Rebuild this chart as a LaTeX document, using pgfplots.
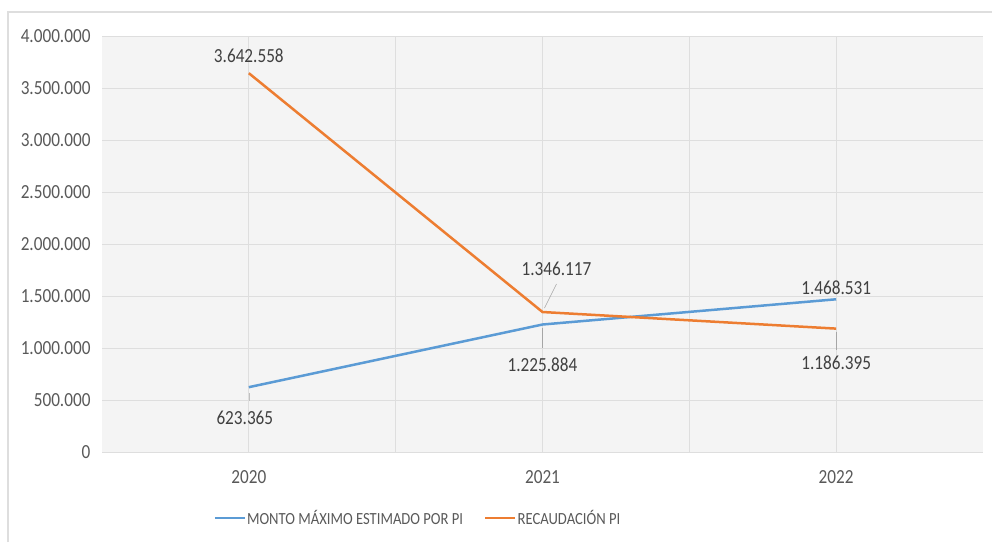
\documentclass[border=0pt]{standalone}
\usepackage{fontspec}
\setmainfont{Carlito}[FakeStretch=0.86]
\usepackage{pgfplots}
\pgfplotsset{compat=1.18}

\definecolor{serieA}{RGB}{91,155,213}
\definecolor{serieB}{RGB}{237,125,49}
\definecolor{txt}{RGB}{89,89,89}
\definecolor{lbl}{RGB}{64,64,64}
\definecolor{gridc}{RGB}{222,222,222}
\definecolor{bgc}{RGB}{244,244,244}

\begin{document}
\begin{tikzpicture}[x=1pt,y=1pt]
\useasboundingbox (0,0) rectangle (992,542);
% outer frame of the chart
\draw[gridc, line width=1.2pt] (8,0) -- (8,530) -- (992,530);

\begin{axis}[
    at={(102pt,90pt)}, anchor=south west,
    scale only axis,
    width=881pt, height=416pt,
    xmin=-0.5, xmax=2.5,
    ymin=0, ymax=4000000,
    xtick={0,1,2},
    xticklabels={2020,2021,2022},
    minor xtick={0.5,1.5},
    ytick={0,500000,...,4000000},
    scaled y ticks=false,
    /pgf/number format/.cd, fixed, 1000 sep={.}, assume math mode=true,
    /pgfplots/.cd,
    axis line style={draw=none},
    axis background/.style={fill=bgc},
    major tick length=0pt, minor tick length=0pt,
    ymajorgrids, xmajorgrids, xminorgrids,
    major grid style={gridc, line width=0.8pt},
    minor grid style={gridc, line width=0.8pt},
    tick label style={font=\fontsize{20}{22}\selectfont, text=txt},
    yticklabel style={xshift=-8pt},
    xticklabel style={anchor=center, yshift=-25pt},
    legend style={
        at={(0.358,-0.159)}, anchor=center,
        draw=none, fill=none,
        legend columns=2,
        font=\fontsize{17}{19}\selectfont, text=txt,
        /tikz/every even column/.append style={column sep=20pt},
        nodes={inner xsep=1pt},
    },
    legend cell align=left,
    legend image code/.code={\draw[#1, line width=2.5pt] (0pt,0pt) -- (30pt,0pt);},
]
\addplot[serieA, line width=2.5pt] coordinates {(0,623365) (1,1225884) (2,1468531)};
\addlegendentry{MONTO MÁXIMO ESTIMADO POR PI}
\addplot[serieB, line width=2.5pt] coordinates {(0,3642558) (1,1346117) (2,1186395)};
\addlegendentry{RECAUDACIÓN PI}

% leader lines
\draw[gray!70, line width=0.6pt] (axis cs:1,1346117) ++(2pt,4pt) -- ++(12pt,24pt);
\draw[gray!70, line width=0.6pt] (axis cs:1,1225884) ++(0pt,-3pt) -- ++(0pt,-20pt);
\draw[gray!70, line width=0.6pt] (axis cs:2,1186395) ++(0pt,-3pt) -- ++(0pt,-18pt);
\draw[gray!50, line width=0.6pt] (axis cs:0,623365) ++(0pt,-6pt) -- ++(0pt,-8pt);

% data labels
\begin{scope}[every node/.style={font=\fontsize{20}{22}\selectfont, text=lbl}]
\node at (axis cs:0,3642558) [yshift=17pt] {3.642.558};
\node at (axis cs:0,623365) [yshift=-31pt, xshift=-4pt] {623.365};
\node at (axis cs:1,1346117) [yshift=43pt, xshift=14pt] {1.346.117};
\node at (axis cs:1,1225884) [yshift=-40pt] {1.225.884};
\node at (axis cs:2,1468531) [yshift=12pt] {1.468.531};
\node at (axis cs:2,1186395) [yshift=-34pt] {1.186.395};
\end{scope}
\end{axis}
\end{tikzpicture}
\end{document}
